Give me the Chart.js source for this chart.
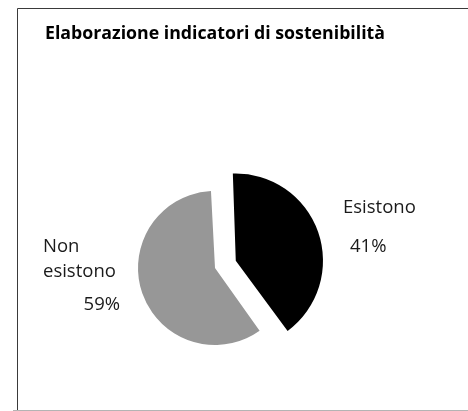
<!DOCTYPE html>
<html>
<head>
<meta charset="utf-8">
<script src="https://cdn.jsdelivr.net/npm/chart.js@4.4.1/dist/chart.umd.min.js"></script>
<style>
  html, body { margin: 0; padding: 0; background: #fff; }
  #wrap { width: 468px; height: 411px; }
</style>
</head>
<body>
<div id="wrap"><canvas id="pie-chart" width="468" height="411"></canvas></div>
<script>
const titleText = "Elaborazione indicatori di sostenibilità";
const categories = ["Esistono", "Non esistono"];
const shares = [41, 59];
const sliceColors = ["#000000", "#979797"];
// Chart.js draws offset / 4, so 88 pushes the slice out ~22px
const explode = [88, 0];

// label lines per slice: [text, dx, dy, align] relative to pie centre
const labelLines = [
  [["Esistono", 128, -55, "left"], [shares[0] + "%", 135, -16, "left"]],
  [["Non", -172, -16, "left"], ["esistono", -172, 9, "left"], [shares[1] + "%", -95, 42, "right"]],
];

const framePlugin = {
  id: "frame",
  beforeDraw(chart) {
    const ctx = chart.ctx;
    ctx.save();
    ctx.lineWidth = 1;
    ctx.strokeStyle = "#3a3a3a";
    ctx.beginPath();
    ctx.moveTo(17.5, 410);
    ctx.lineTo(17.5, 8.5);
    ctx.lineTo(468, 8.5);
    ctx.stroke();
    ctx.strokeStyle = "#b4b4b4";
    ctx.beginPath();
    ctx.moveTo(13, 410.5);
    ctx.lineTo(468, 410.5);
    ctx.stroke();
    ctx.restore();
  },
};

const sliceLabels = {
  id: "sliceLabels",
  afterDatasetsDraw(chart) {
    const ctx = chart.ctx;
    const arcs = chart.getDatasetMeta(0).data;
    ctx.save();
    ctx.font = "18.5px 'Open Sans'";
    ctx.fillStyle = "#1a1a1a";
    ctx.textBaseline = "alphabetic";
    arcs.forEach((arc, i) => {
      labelLines[i].forEach(([text, dx, dy, align]) => {
        ctx.textAlign = align;
        ctx.fillText(text, arc.x + dx, arc.y + dy);
      });
    });
    ctx.restore();
  },
};

new Chart(document.getElementById("pie-chart"), {
  type: "pie",
  data: {
    labels: categories,
    datasets: [
      {
        data: shares,
        backgroundColor: sliceColors,
        borderWidth: 0,
        offset: explode,
        hoverOffset: 0,
      },
    ],
  },
  options: {
    responsive: false,
    animation: false,
    rotation: -3,
    radius: 77,
    layout: { padding: { left: 45, right: 83, top: 0, bottom: 0 } },
    plugins: {
      legend: { display: false },
      tooltip: { enabled: false },
      title: {
        display: true,
        text: titleText,
        align: "start",
        color: "#000",
        font: { family: "'Open Sans'", size: 18, weight: "bold" },
        padding: { top: 23, bottom: 80.4 },
      },
    },
  },
  plugins: [framePlugin, sliceLabels],
});
</script>
</body>
</html>
